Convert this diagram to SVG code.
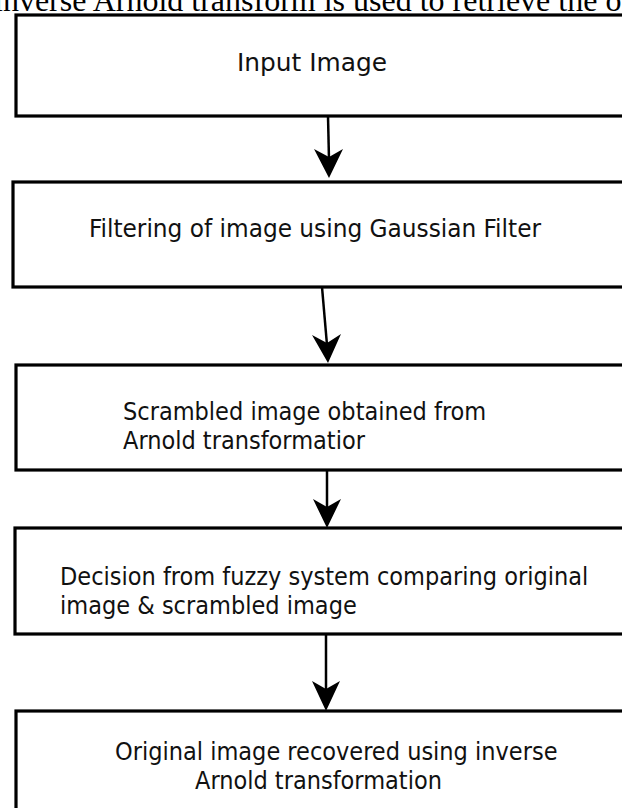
<svg xmlns="http://www.w3.org/2000/svg" width="622" height="808" viewBox="0 0 622 808">
<style>
.box{fill:#fff;stroke:#000;stroke-width:3.2}
.t{font-family:"DejaVu Sans Condensed","DejaVu Sans",sans-serif;font-size:25px;fill:#111}
.hdr{font-family:"Liberation Serif",serif;font-size:32px;fill:#000}
.ln{stroke:#000;stroke-width:2.5;fill:none}
.hd{fill:#000}
</style>
<rect width="622" height="808" fill="#fff"/>
<g id="n1"><rect class="box" x="16" y="15" width="630" height="101"/><text class="t" x="237" y="71" textLength="150" lengthAdjust="spacingAndGlyphs">Input Image</text></g>
<text class="hdr" x="-6" y="11">inverse Arnold transform is used to retrieve the o</text>
<g id="n2"><rect class="box" x="13" y="182" width="630" height="105"/><text class="t" x="89" y="237" textLength="452" lengthAdjust="spacingAndGlyphs">Filtering of image using Gaussian Filter</text></g>
<g id="n3"><rect class="box" x="16" y="365" width="630" height="105"/><text class="t" x="123" y="420">Scrambled image obtained from</text><text class="t" x="123" y="449">Arnold transformatior</text></g>
<g id="n4"><rect class="box" x="15" y="528" width="630" height="106"/><text class="t" x="60" y="585">Decision from fuzzy system comparing original</text><text class="t" x="60" y="614">image &amp; scrambled image</text></g>
<g id="n5"><rect class="box" x="16" y="711" width="630" height="120"/><text class="t" x="115" y="760">Original image recovered using inverse</text><text class="t" x="195" y="789">Arnold transformation</text></g>
<g id="connectors">
<line class="ln" x1="328" y1="116" x2="329" y2="160"/>
<path class="hd" d="M329,178 L314,149 L329,157 L343,149 Z"/>
<line class="ln" x1="322" y1="287" x2="327" y2="345"/>
<path class="hd" d="M328,363 L312,335 L327,343 L341,334 Z"/>
<line class="ln" x1="327" y1="470" x2="327" y2="510"/>
<path class="hd" d="M327,528 L313,499 L327,507 L341,499 Z"/>
<line class="ln" x1="326" y1="634" x2="326" y2="692"/>
<path class="hd" d="M326,711 L312,681 L326,689 L340,681 Z"/>
</g>
</svg>
